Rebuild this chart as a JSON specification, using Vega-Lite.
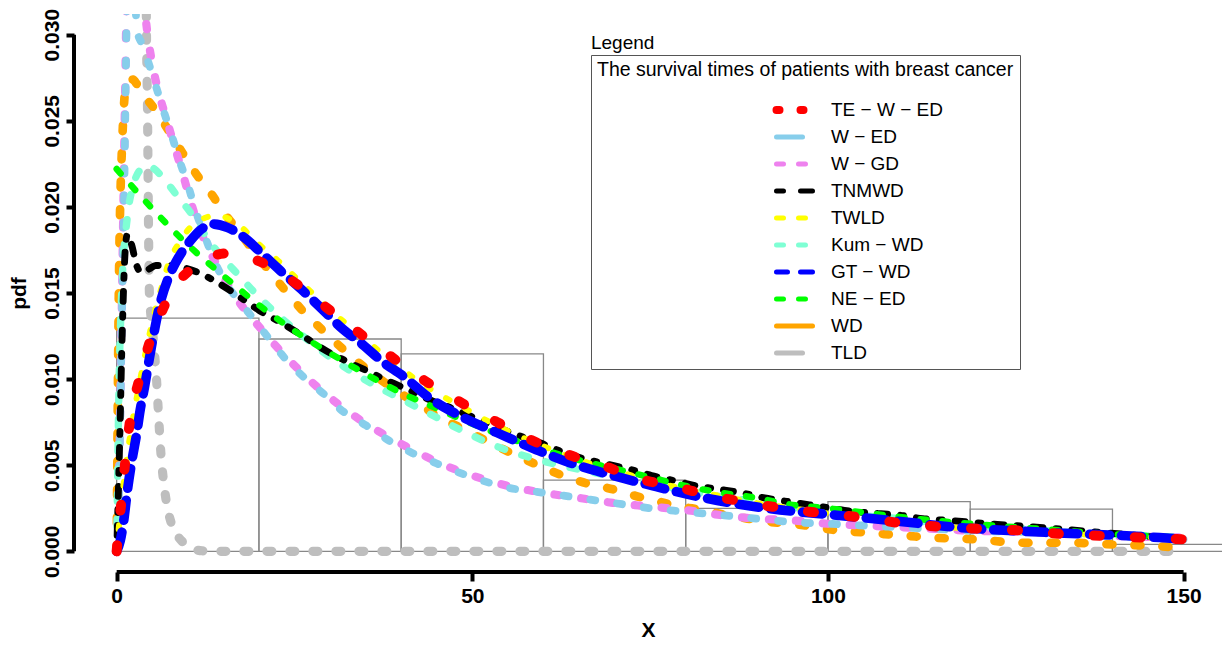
{
"$schema": "https://vega.github.io/schema/vega-lite/v6.json",
"width": 1148, "height": 558,
"autosize": {"type": "none"},
"padding": {"left": 74, "top": 14, "right": 0, "bottom": 76},
"background": "white",
"config": {
  "view": {"stroke": null},
  "axis": {"domain": false, "grid": false, "tickColor": "black", "tickWidth": 4, "tickSize": 9,
    "labelFont": "Liberation Sans Narrow, Liberation Sans", "labelFontWeight": "bold", "labelFontSize": 21, "labelColor": "black",
    "titleFont": "Liberation Sans Narrow, Liberation Sans", "titleFontWeight": "bold", "titleFontSize": 21, "titleColor": "black"}
},
"datasets": {
  "one": [{}],
  "hist": [
    {"b0": 0, "b1": 20, "d": 0.01354},
    {"b0": 20, "b1": 40, "d": 0.01233},
    {"b0": 40, "b1": 60, "d": 0.01146},
    {"b0": 60, "b1": 80, "d": 0.00414},
    {"b0": 80, "b1": 100, "d": 0.00249},
    {"b0": 100, "b1": 120, "d": 0.00289},
    {"b0": 120, "b1": 140, "d": 0.00245},
    {"b0": 140, "b1": 160, "d": 0.0004}
  ],
  "curves": [
    {"m":"TLD","x":3.9,"y":0.05},{"m":"TLD","x":4.2,"y":0.0297},{"m":"TLD","x":4.35,"y":0.025},{"m":"TLD","x":4.45,"y":0.02},{"m":"TLD","x":4.6,"y":0.015},{"m":"TLD","x":5.0,"y":0.013},{"m":"TLD","x":5.3,"y":0.0116},{"m":"TLD","x":5.6,"y":0.01},{"m":"TLD","x":5.9,"y":0.0078},{"m":"TLD","x":6.2,"y":0.0058},{"m":"TLD","x":6.7,"y":0.0037},{"m":"TLD","x":7.2,"y":0.0024},{"m":"TLD","x":7.8,"y":0.0015},{"m":"TLD","x":8.4,"y":0.001},{"m":"TLD","x":9.4,"y":0.0005},{"m":"TLD","x":10.5,"y":0.0002},{"m":"TLD","x":12,"y":0.00003},{"m":"TLD","x":15,"y":0},{"m":"TLD","x":30,"y":0},{"m":"TLD","x":60,"y":0},{"m":"TLD","x":90,"y":0},{"m":"TLD","x":120,"y":0},{"m":"TLD","x":150,"y":0},

    {"m":"WD","x":0,"y":0},{"m":"WD","x":0.3,"y":0.015},{"m":"WD","x":0.8,"y":0.024},{"m":"WD","x":1.4,"y":0.0272},{"m":"WD","x":2.2,"y":0.0274},{"m":"WD","x":2.9,"y":0.0271},{"m":"WD","x":4,"y":0.0264},{"m":"WD","x":5.3,"y":0.0257},{"m":"WD","x":7.2,"y":0.0245},{"m":"WD","x":9.3,"y":0.0231},{"m":"WD","x":11.2,"y":0.0219},{"m":"WD","x":13.4,"y":0.0207},{"m":"WD","x":15.2,"y":0.0196},{"m":"WD","x":17.3,"y":0.0185},{"m":"WD","x":19.7,"y":0.0172},{"m":"WD","x":21.8,"y":0.0161},{"m":"WD","x":24,"y":0.015},{"m":"WD","x":26.3,"y":0.0139},{"m":"WD","x":28.8,"y":0.0129},{"m":"WD","x":31.4,"y":0.0119},{"m":"WD","x":34.2,"y":0.0109},{"m":"WD","x":36.7,"y":0.0101},{"m":"WD","x":39.8,"y":0.0092},{"m":"WD","x":43,"y":0.0084},{"m":"WD","x":45.8,"y":0.0077},{"m":"WD","x":49.2,"y":0.007},{"m":"WD","x":53,"y":0.0062},{"m":"WD","x":57.6,"y":0.0053},{"m":"WD","x":60.9,"y":0.0047},{"m":"WD","x":63.4,"y":0.0043},{"m":"WD","x":66.5,"y":0.0039},{"m":"WD","x":69.8,"y":0.0036},{"m":"WD","x":73.1,"y":0.0032},{"m":"WD","x":76.1,"y":0.0029},{"m":"WD","x":79.2,"y":0.0026},{"m":"WD","x":82.4,"y":0.0024},{"m":"WD","x":85.8,"y":0.0021},{"m":"WD","x":88.7,"y":0.0019},{"m":"WD","x":92,"y":0.0017},{"m":"WD","x":95,"y":0.0016},{"m":"WD","x":98.4,"y":0.0014},{"m":"WD","x":101.6,"y":0.0012},{"m":"WD","x":104.9,"y":0.0011},{"m":"WD","x":108,"y":0.001},{"m":"WD","x":111.2,"y":0.0009},{"m":"WD","x":114.3,"y":0.0008},{"m":"WD","x":120.6,"y":0.0007},{"m":"WD","x":127.2,"y":0.0005},{"m":"WD","x":133.6,"y":0.0005},{"m":"WD","x":139.9,"y":0.0004},{"m":"WD","x":146.2,"y":0.0003},{"m":"WD","x":150,"y":0.0002},

    {"m":"W − GD","x":0,"y":0},{"m":"W − GD","x":0.3,"y":0.004},{"m":"W − GD","x":0.6,"y":0.011},{"m":"W − GD","x":0.9,"y":0.019},{"m":"W − GD","x":1.2,"y":0.027},{"m":"W − GD","x":1.5,"y":0.034},{"m":"W − GD","x":2.5,"y":0.038},{"m":"W − GD","x":3.5,"y":0.0335},{"m":"W − GD","x":4.2,"y":0.0305},{"m":"W − GD","x":5.1,"y":0.0281},{"m":"W − GD","x":6,"y":0.0265},{"m":"W − GD","x":7,"y":0.0251},{"m":"W − GD","x":8,"y":0.0237},{"m":"W − GD","x":9.1,"y":0.0222},{"m":"W − GD","x":10.2,"y":0.0206},{"m":"W − GD","x":11.4,"y":0.019},{"m":"W − GD","x":13,"y":0.0175},{"m":"W − GD","x":14.8,"y":0.0161},{"m":"W − GD","x":17,"y":0.0146},{"m":"W − GD","x":19.5,"y":0.0133},{"m":"W − GD","x":22,"y":0.0121},{"m":"W − GD","x":24.5,"y":0.011},{"m":"W − GD","x":27.5,"y":0.0098},{"m":"W − GD","x":31.3,"y":0.0085},{"m":"W − GD","x":35.1,"y":0.0074},{"m":"W − GD","x":38.4,"y":0.0066},{"m":"W − GD","x":41.6,"y":0.0059},{"m":"W − GD","x":45,"y":0.0052},{"m":"W − GD","x":50,"y":0.0044},{"m":"W − GD","x":55,"y":0.0038},{"m":"W − GD","x":60,"y":0.0034},{"m":"W − GD","x":65,"y":0.0031},{"m":"W − GD","x":70,"y":0.0028},{"m":"W − GD","x":75,"y":0.0026},{"m":"W − GD","x":80,"y":0.0024},{"m":"W − GD","x":85,"y":0.0021},{"m":"W − GD","x":90,"y":0.0019},{"m":"W − GD","x":95,"y":0.0018},{"m":"W − GD","x":100,"y":0.0016},{"m":"W − GD","x":105,"y":0.0015},{"m":"W − GD","x":110,"y":0.0014},{"m":"W − GD","x":115,"y":0.0013},{"m":"W − GD","x":120,"y":0.0012},{"m":"W − GD","x":130,"y":0.0011},{"m":"W − GD","x":140,"y":0.0009},{"m":"W − GD","x":150,"y":0.0008},

    {"m":"W − ED","x":0,"y":0},{"m":"W − ED","x":0.2,"y":0.002},{"m":"W − ED","x":0.4,"y":0.005},{"m":"W − ED","x":0.55,"y":0.009},{"m":"W − ED","x":0.7,"y":0.013},{"m":"W − ED","x":0.9,"y":0.017},{"m":"W − ED","x":1.1,"y":0.022},{"m":"W − ED","x":1.3,"y":0.028},{"m":"W − ED","x":1.5,"y":0.033},{"m":"W − ED","x":2.0,"y":0.0345},{"m":"W − ED","x":2.5,"y":0.0325},{"m":"W − ED","x":2.9,"y":0.0302},{"m":"W − ED","x":3.5,"y":0.0295},{"m":"W − ED","x":4.2,"y":0.0287},{"m":"W − ED","x":5.3,"y":0.0273},{"m":"W − ED","x":6.5,"y":0.0257},{"m":"W − ED","x":7.7,"y":0.0242},{"m":"W − ED","x":8.9,"y":0.0226},{"m":"W − ED","x":10,"y":0.0213},{"m":"W − ED","x":11,"y":0.0199},{"m":"W − ED","x":12.4,"y":0.0183},{"m":"W − ED","x":13.8,"y":0.0168},{"m":"W − ED","x":15.3,"y":0.0156},{"m":"W − ED","x":17.7,"y":0.0143},{"m":"W − ED","x":19.8,"y":0.0132},{"m":"W − ED","x":21.9,"y":0.0121},{"m":"W − ED","x":24.1,"y":0.011},{"m":"W − ED","x":26.9,"y":0.0099},{"m":"W − ED","x":29.5,"y":0.009},{"m":"W − ED","x":31.3,"y":0.0083},{"m":"W − ED","x":35.1,"y":0.0073},{"m":"W − ED","x":38.4,"y":0.0064},{"m":"W − ED","x":41.6,"y":0.0057},{"m":"W − ED","x":45,"y":0.0051},{"m":"W − ED","x":50,"y":0.0043},{"m":"W − ED","x":55,"y":0.0037},{"m":"W − ED","x":60,"y":0.0034},{"m":"W − ED","x":65,"y":0.0031},{"m":"W − ED","x":70,"y":0.0028},{"m":"W − ED","x":75,"y":0.0025},{"m":"W − ED","x":80,"y":0.0023},{"m":"W − ED","x":85,"y":0.0021},{"m":"W − ED","x":90,"y":0.0019},{"m":"W − ED","x":95,"y":0.0017},{"m":"W − ED","x":100,"y":0.0016},{"m":"W − ED","x":105,"y":0.0015},{"m":"W − ED","x":110,"y":0.0014},{"m":"W − ED","x":115,"y":0.0013},{"m":"W − ED","x":120,"y":0.0012},{"m":"W − ED","x":130,"y":0.0011},{"m":"W − ED","x":140,"y":0.0009},{"m":"W − ED","x":150,"y":0.0007},

    {"m":"Kum − WD","x":0,"y":0},{"m":"Kum − WD","x":0.3,"y":0.009},{"m":"Kum − WD","x":0.7,"y":0.015},{"m":"Kum − WD","x":1.5,"y":0.0194},{"m":"Kum − WD","x":2.3,"y":0.0212},{"m":"Kum − WD","x":3.2,"y":0.0221},{"m":"Kum − WD","x":4.3,"y":0.0224},{"m":"Kum − WD","x":5.3,"y":0.0222},{"m":"Kum − WD","x":6.5,"y":0.0217},{"m":"Kum − WD","x":8.4,"y":0.0207},{"m":"Kum − WD","x":10.5,"y":0.0196},{"m":"Kum − WD","x":12.7,"y":0.0182},{"m":"Kum − WD","x":15,"y":0.017},{"m":"Kum − WD","x":17,"y":0.0161},{"m":"Kum − WD","x":19.7,"y":0.0149},{"m":"Kum − WD","x":22.2,"y":0.0139},{"m":"Kum − WD","x":24.7,"y":0.013},{"m":"Kum − WD","x":27.4,"y":0.0121},{"m":"Kum − WD","x":29.9,"y":0.0113},{"m":"Kum − WD","x":32.8,"y":0.0105},{"m":"Kum − WD","x":35.6,"y":0.0098},{"m":"Kum − WD","x":40.2,"y":0.0088},{"m":"Kum − WD","x":44.4,"y":0.0079},{"m":"Kum − WD","x":48.6,"y":0.007},{"m":"Kum − WD","x":53.4,"y":0.0061},{"m":"Kum − WD","x":58.5,"y":0.0054},{"m":"Kum − WD","x":63.4,"y":0.0049},{"m":"Kum − WD","x":68,"y":0.0045},{"m":"Kum − WD","x":73,"y":0.0041},{"m":"Kum − WD","x":78,"y":0.0037},{"m":"Kum − WD","x":83,"y":0.0033},{"m":"Kum − WD","x":88,"y":0.003},{"m":"Kum − WD","x":93,"y":0.0027},{"m":"Kum − WD","x":98,"y":0.0024},{"m":"Kum − WD","x":104,"y":0.0021},{"m":"Kum − WD","x":110,"y":0.0019},{"m":"Kum − WD","x":116,"y":0.0016},{"m":"Kum − WD","x":122,"y":0.0014},{"m":"Kum − WD","x":128,"y":0.0013},{"m":"Kum − WD","x":134,"y":0.0011},{"m":"Kum − WD","x":140,"y":0.001},{"m":"Kum − WD","x":145,"y":0.0009},{"m":"Kum − WD","x":150,"y":0.0008},

    {"m":"TNMWD","x":0,"y":0},{"m":"TNMWD","x":0.4,"y":0.006},{"m":"TNMWD","x":0.8,"y":0.013},{"m":"TNMWD","x":1.2,"y":0.0175},{"m":"TNMWD","x":1.5,"y":0.0184},{"m":"TNMWD","x":2.1,"y":0.0178},{"m":"TNMWD","x":2.8,"y":0.0166},{"m":"TNMWD","x":3.5,"y":0.0162},{"m":"TNMWD","x":4.6,"y":0.0164},{"m":"TNMWD","x":5.5,"y":0.0166},{"m":"TNMWD","x":7,"y":0.0166},{"m":"TNMWD","x":9,"y":0.0165},{"m":"TNMWD","x":11.4,"y":0.0162},{"m":"TNMWD","x":14.2,"y":0.0156},{"m":"TNMWD","x":17.2,"y":0.0148},{"m":"TNMWD","x":20,"y":0.014},{"m":"TNMWD","x":23,"y":0.0133},{"m":"TNMWD","x":26.2,"y":0.0125},{"m":"TNMWD","x":29.2,"y":0.0117},{"m":"TNMWD","x":32,"y":0.0111},{"m":"TNMWD","x":35.1,"y":0.0105},{"m":"TNMWD","x":38.1,"y":0.0099},{"m":"TNMWD","x":40.9,"y":0.0094},{"m":"TNMWD","x":44,"y":0.0088},{"m":"TNMWD","x":47.2,"y":0.0083},{"m":"TNMWD","x":50,"y":0.0078},{"m":"TNMWD","x":52.9,"y":0.0073},{"m":"TNMWD","x":56,"y":0.0068},{"m":"TNMWD","x":59.5,"y":0.0063},{"m":"TNMWD","x":62.5,"y":0.0058},{"m":"TNMWD","x":65.5,"y":0.0054},{"m":"TNMWD","x":68.5,"y":0.0051},{"m":"TNMWD","x":71.8,"y":0.0048},{"m":"TNMWD","x":75.2,"y":0.0044},{"m":"TNMWD","x":78.4,"y":0.0041},{"m":"TNMWD","x":81.5,"y":0.0038},{"m":"TNMWD","x":84.8,"y":0.0036},{"m":"TNMWD","x":87.8,"y":0.0034},{"m":"TNMWD","x":91.1,"y":0.0031},{"m":"TNMWD","x":94.2,"y":0.0029},{"m":"TNMWD","x":97.4,"y":0.0027},{"m":"TNMWD","x":100.5,"y":0.0025},{"m":"TNMWD","x":103.8,"y":0.0023},{"m":"TNMWD","x":107,"y":0.0022},{"m":"TNMWD","x":110,"y":0.0021},{"m":"TNMWD","x":113.3,"y":0.0019},{"m":"TNMWD","x":116.7,"y":0.0018},{"m":"TNMWD","x":122.7,"y":0.0016},{"m":"TNMWD","x":129.3,"y":0.0014},{"m":"TNMWD","x":135.4,"y":0.0012},{"m":"TNMWD","x":141.4,"y":0.001},{"m":"TNMWD","x":148,"y":0.0008},{"m":"TNMWD","x":150,"y":0.0008},

    {"m":"NE − ED","x":0,"y":0.0222},{"m":"NE − ED","x":5,"y":0.0199},{"m":"NE − ED","x":10,"y":0.0178},{"m":"NE − ED","x":15,"y":0.016},{"m":"NE − ED","x":20,"y":0.0143},{"m":"NE − ED","x":25,"y":0.0128},{"m":"NE − ED","x":30,"y":0.0115},{"m":"NE − ED","x":35,"y":0.0103},{"m":"NE − ED","x":40,"y":0.0092},{"m":"NE − ED","x":45,"y":0.0083},{"m":"NE − ED","x":50,"y":0.0074},{"m":"NE − ED","x":55,"y":0.0066},{"m":"NE − ED","x":60,"y":0.0059},{"m":"NE − ED","x":65,"y":0.0053},{"m":"NE − ED","x":70,"y":0.0048},{"m":"NE − ED","x":75,"y":0.0043},{"m":"NE − ED","x":80,"y":0.0038},{"m":"NE − ED","x":85,"y":0.0034},{"m":"NE − ED","x":90,"y":0.0031},{"m":"NE − ED","x":95,"y":0.0027},{"m":"NE − ED","x":100,"y":0.0025},{"m":"NE − ED","x":110,"y":0.002},{"m":"NE − ED","x":120,"y":0.0016},{"m":"NE − ED","x":130,"y":0.0013},{"m":"NE − ED","x":140,"y":0.001},{"m":"NE − ED","x":150,"y":0.0008},

    {"m":"TWLD","x":0,"y":0},{"m":"TWLD","x":0.4,"y":0.0018},{"m":"TWLD","x":1,"y":0.004},{"m":"TWLD","x":2,"y":0.007},{"m":"TWLD","x":3,"y":0.0093},{"m":"TWLD","x":4.4,"y":0.0122},{"m":"TWLD","x":5.3,"y":0.0138},{"m":"TWLD","x":6.3,"y":0.0153},{"m":"TWLD","x":7.2,"y":0.0166},{"m":"TWLD","x":8.9,"y":0.018},{"m":"TWLD","x":11.2,"y":0.0191},{"m":"TWLD","x":14.1,"y":0.0195},{"m":"TWLD","x":17,"y":0.019},{"m":"TWLD","x":19.8,"y":0.0179},{"m":"TWLD","x":22.9,"y":0.0168},{"m":"TWLD","x":25.4,"y":0.0158},{"m":"TWLD","x":28,"y":0.0148},{"m":"TWLD","x":30.6,"y":0.0138},{"m":"TWLD","x":33.2,"y":0.0129},{"m":"TWLD","x":35.8,"y":0.012},{"m":"TWLD","x":38.8,"y":0.011},{"m":"TWLD","x":42,"y":0.01},{"m":"TWLD","x":45,"y":0.0092},{"m":"TWLD","x":48.5,"y":0.0084},{"m":"TWLD","x":52,"y":0.0076},{"m":"TWLD","x":56,"y":0.0068},{"m":"TWLD","x":60,"y":0.0061},{"m":"TWLD","x":65,"y":0.0053},{"m":"TWLD","x":70,"y":0.0047},{"m":"TWLD","x":75,"y":0.0041},{"m":"TWLD","x":80,"y":0.0036},{"m":"TWLD","x":85,"y":0.0032},{"m":"TWLD","x":90,"y":0.0028},{"m":"TWLD","x":95,"y":0.0025},{"m":"TWLD","x":100,"y":0.0022},{"m":"TWLD","x":105,"y":0.0019},{"m":"TWLD","x":110,"y":0.0017},{"m":"TWLD","x":115,"y":0.0015},{"m":"TWLD","x":120,"y":0.0013},{"m":"TWLD","x":125,"y":0.0012},{"m":"TWLD","x":130,"y":0.0011},{"m":"TWLD","x":135,"y":0.001},{"m":"TWLD","x":140,"y":0.0009},{"m":"TWLD","x":145,"y":0.0008},{"m":"TWLD","x":150,"y":0.0007},

    {"m":"GT − WD","x":0,"y":0},{"m":"GT − WD","x":0.5,"y":0.0006},{"m":"GT − WD","x":1,"y":0.0018},{"m":"GT − WD","x":1.5,"y":0.0035},{"m":"GT − WD","x":2.2,"y":0.0054},{"m":"GT − WD","x":2.8,"y":0.0068},{"m":"GT − WD","x":3.3,"y":0.0082},{"m":"GT − WD","x":3.9,"y":0.0095},{"m":"GT − WD","x":4.6,"y":0.0112},{"m":"GT − WD","x":5.3,"y":0.0128},{"m":"GT − WD","x":6.3,"y":0.0147},{"m":"GT − WD","x":7.2,"y":0.0158},{"m":"GT − WD","x":8.2,"y":0.0167},{"m":"GT − WD","x":9.2,"y":0.0174},{"m":"GT − WD","x":10.3,"y":0.018},{"m":"GT − WD","x":11.9,"y":0.0187},{"m":"GT − WD","x":13.5,"y":0.019},{"m":"GT − WD","x":15.6,"y":0.0188},{"m":"GT − WD","x":18,"y":0.0182},{"m":"GT − WD","x":20.4,"y":0.0173},{"m":"GT − WD","x":23,"y":0.0163},{"m":"GT − WD","x":26,"y":0.0152},{"m":"GT − WD","x":28.8,"y":0.0141},{"m":"GT − WD","x":31.8,"y":0.0129},{"m":"GT − WD","x":34.6,"y":0.012},{"m":"GT − WD","x":37.4,"y":0.011},{"m":"GT − WD","x":40.2,"y":0.0102},{"m":"GT − WD","x":44,"y":0.0089},{"m":"GT − WD","x":48.6,"y":0.0078},{"m":"GT − WD","x":53.4,"y":0.0069},{"m":"GT − WD","x":59,"y":0.0059},{"m":"GT − WD","x":63.3,"y":0.0052},{"m":"GT − WD","x":68.9,"y":0.0045},{"m":"GT − WD","x":75.4,"y":0.0038},{"m":"GT − WD","x":81.5,"y":0.0032},{"m":"GT − WD","x":91.4,"y":0.0025},{"m":"GT − WD","x":101.2,"y":0.0021},{"m":"GT − WD","x":108.7,"y":0.0018},{"m":"GT − WD","x":118,"y":0.0014},{"m":"GT − WD","x":130.7,"y":0.0011},{"m":"GT − WD","x":146.6,"y":0.0008},{"m":"GT − WD","x":150,"y":0.0007},

    {"m":"TE − W − ED","x":0,"y":0},{"m":"TE − W − ED","x":0.3,"y":0.0015},{"m":"TE − W − ED","x":0.7,"y":0.003},{"m":"TE − W − ED","x":1.3,"y":0.0056},{"m":"TE − W − ED","x":2.1,"y":0.0082},{"m":"TE − W − ED","x":3,"y":0.0097},{"m":"TE − W − ED","x":3.7,"y":0.0108},{"m":"TE − W − ED","x":4.6,"y":0.0121},{"m":"TE − W − ED","x":5.6,"y":0.0132},{"m":"TE − W − ED","x":7,"y":0.0145},{"m":"TE − W − ED","x":8.4,"y":0.0155},{"m":"TE − W − ED","x":10.5,"y":0.0164},{"m":"TE − W − ED","x":12.7,"y":0.017},{"m":"TE − W − ED","x":15.5,"y":0.0173},{"m":"TE − W − ED","x":18.3,"y":0.0171},{"m":"TE − W − ED","x":20.8,"y":0.0167},{"m":"TE − W − ED","x":23.3,"y":0.0161},{"m":"TE − W − ED","x":25.7,"y":0.0154},{"m":"TE − W − ED","x":28.1,"y":0.0146},{"m":"TE − W − ED","x":30.3,"y":0.0139},{"m":"TE − W − ED","x":32.5,"y":0.0132},{"m":"TE − W − ED","x":35,"y":0.0124},{"m":"TE − W − ED","x":37.3,"y":0.0117},{"m":"TE − W − ED","x":39.6,"y":0.011},{"m":"TE − W − ED","x":41.9,"y":0.0103},{"m":"TE − W − ED","x":44.5,"y":0.0096},{"m":"TE − W − ED","x":47,"y":0.009},{"m":"TE − W − ED","x":49.4,"y":0.0084},{"m":"TE − W − ED","x":51.7,"y":0.0079},{"m":"TE − W − ED","x":54.4,"y":0.0073},{"m":"TE − W − ED","x":57.1,"y":0.0067},{"m":"TE − W − ED","x":59.7,"y":0.0062},{"m":"TE − W − ED","x":62.3,"y":0.0058},{"m":"TE − W − ED","x":65,"y":0.0054},{"m":"TE − W − ED","x":67.6,"y":0.0051},{"m":"TE − W − ED","x":70.2,"y":0.0047},{"m":"TE − W − ED","x":72.8,"y":0.0043},{"m":"TE − W − ED","x":75.6,"y":0.004},{"m":"TE − W − ED","x":78.4,"y":0.0038},{"m":"TE − W − ED","x":81,"y":0.0035},{"m":"TE − W − ED","x":83.8,"y":0.0032},{"m":"TE − W − ED","x":86.5,"y":0.003},{"m":"TE − W − ED","x":89.3,"y":0.0028},{"m":"TE − W − ED","x":92,"y":0.0026},{"m":"TE − W − ED","x":94.6,"y":0.0025},{"m":"TE − W − ED","x":97.3,"y":0.0023},{"m":"TE − W − ED","x":100,"y":0.0022},{"m":"TE − W − ED","x":105.6,"y":0.0019},{"m":"TE − W − ED","x":111,"y":0.0016},{"m":"TE − W − ED","x":116.7,"y":0.0014},{"m":"TE − W − ED","x":122,"y":0.0013},{"m":"TE − W − ED","x":127.4,"y":0.0012},{"m":"TE − W − ED","x":133,"y":0.001},{"m":"TE − W − ED","x":138.5,"y":0.0009},{"m":"TE − W − ED","x":144.1,"y":0.0008},{"m":"TE − W − ED","x":150,"y":0.0007}
  ]
},
"layer": [
  {
    "data": {"name": "hist"},
    "mark": {"type": "rect", "fillOpacity": 0, "stroke": "#888888", "strokeWidth": 1.3, "clip": true},
    "encoding": {
      "x": {"field": "b0", "type": "quantitative", "title": "X",
        "scale": {"domain": [-6, 155.4], "nice": false, "zero": false},
        "axis": {"values": [0, 50, 100, 150], "labelPadding": 4, "titlePadding": 13, "tickSize": 9}},
      "x2": {"field": "b1"},
      "y": {"field": "d", "type": "quantitative", "title": "pdf",
        "scale": {"domain": [-0.0012, 0.0312], "nice": false, "zero": false},
        "axis": {"values": [0, 0.005, 0.01, 0.015, 0.02, 0.025, 0.03], "format": ".3f", "labelAngle": -90, "labelAlign": "center", "labelBaseline": "bottom", "labelPadding": 4, "titlePadding": 12, "tickSize": 8}},
      "y2": {"datum": 0}
    }
  },
  {
    "data": {"name": "curves"},
    "mark": {"type": "line", "clip": true, "interpolate": "monotone", "strokeCap": "round", "strokeJoin": "round"},
    "encoding": {
      "x": {"field": "x", "type": "quantitative", "title": "X"},
      "y": {"field": "y", "type": "quantitative", "title": "pdf"},
      "color": {"field": "m", "type": "nominal",
        "scale": {"domain": ["TE − W − ED", "W − ED", "W − GD", "TNMWD", "TWLD", "Kum − WD", "GT − WD", "NE − ED", "WD", "TLD"],
                  "range": ["#FF0000", "#87CEEB", "#EE82EE", "#000000", "#FFFF00", "#7FFFD4", "#0000FF", "#00FF00", "#FFA500", "#BEBEBE"]},
        "legend": {"orient": "none", "legendX": 517, "legendY": 41, "direction": "vertical",
          "title": "The survival times of patients with breast cancer",
          "titleFont": "Liberation Sans", "titleFontSize": 19.5, "titleFontWeight": "normal", "titleColor": "black", "titleLimit": 1000, "titlePadding": 20, "titleAnchor": "start",
          "labelFont": "Liberation Sans", "labelFontSize": 19, "labelColor": "black", "labelLimit": 300, "labelOffset": 27,
          "symbolType": "M-2,0H2", "symbolSize": 324, "symbolOffset": 188, "symbolStrokeWidth": 5, "symbolFillColor": "transparent",
          "clipHeight": 19, "rowPadding": 7, "padding": 6, "strokeColor": "#555555", "fillColor": "white", "cornerRadius": 0,
          "encoding": {"symbols": {
            "strokeDash": {"value": {"expr": "[[3,21],[26,100],[7,15],[7,17,13,50],[7,15],[7,15],[11,13,12,50],[7,15],[50,0],[26,100]][datum.index]"}},
            "strokeWidth": {"value": {"expr": "datum.index === 0 ? 8 : 5"}},
            "strokeCap": {"value": "round"}
          }}
        }},
      "strokeDash": {"field": "m", "type": "nominal", "legend": null,
        "scale": {"domain": ["TLD", "WD", "W − GD", "W − ED", "Kum − WD", "TNMWD", "NE − ED", "TWLD", "GT − WD", "TE − W − ED"],
                  "range": [[5, 18], [6, 22], [5, 22], [5, 22], [7, 18], [3, 13, 10, 13], [6, 16], [4, 18], [20, 12], [6, 35]]}},
      "strokeWidth": {"field": "m", "type": "nominal", "legend": null,
        "scale": {"domain": ["TE − W − ED", "GT − WD", "TLD", "WD", "W − GD", "W − ED", "Kum − WD", "TNMWD", "NE − ED", "TWLD"],
                  "range": [10, 6, 5, 5, 5, 5, 5, 5, 5, 5]}}
    }
  },
  {
    "data": {"name": "one"},
    "mark": {"type": "rule", "strokeWidth": 4, "color": "black"},
    "encoding": {
      "x": {"datum": -6, "type": "quantitative"},
      "y": {"datum": 0, "type": "quantitative"},
      "y2": {"datum": 0.03}
    }
  },
  {
    "data": {"name": "one"},
    "mark": {"type": "rule", "strokeWidth": 4, "color": "black"},
    "encoding": {
      "y": {"datum": -0.0012, "type": "quantitative"},
      "x": {"datum": 0, "type": "quantitative"},
      "x2": {"datum": 150}
    }
  },
  {
    "data": {"name": "one"},
    "mark": {"type": "text", "text": "Legend", "align": "left", "baseline": "alphabetic", "font": "Liberation Sans", "fontSize": 19, "color": "black"},
    "encoding": {
      "x": {"datum": 66.68, "type": "quantitative"},
      "y": {"datum": 0.02917, "type": "quantitative"}
    }
  }
]
}
